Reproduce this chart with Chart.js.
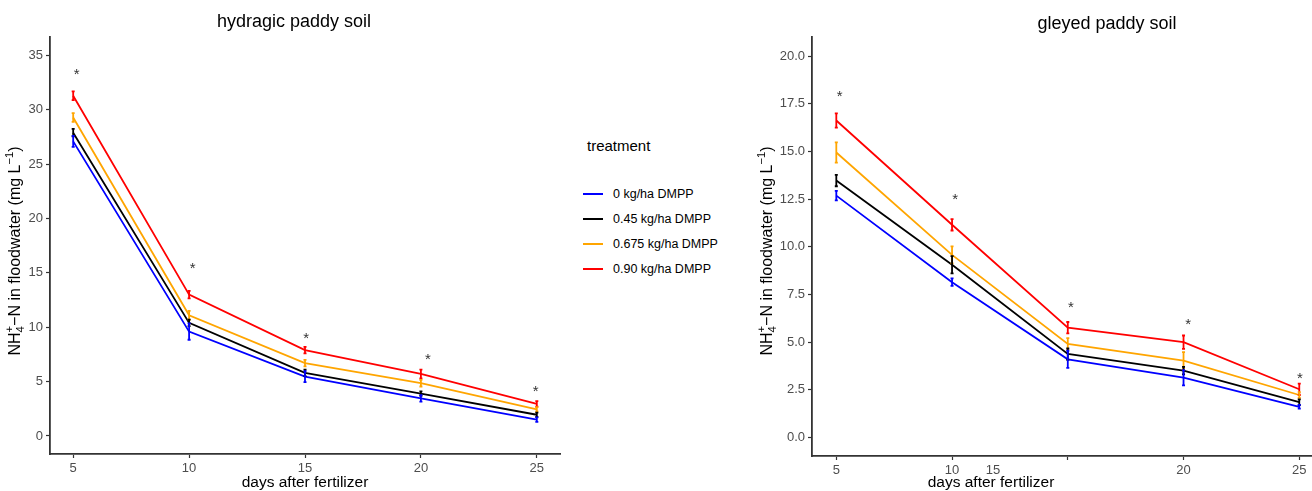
<!DOCTYPE html>
<html>
<head>
<meta charset="utf-8">
<script src="https://cdn.jsdelivr.net/npm/chart.js@4.4.1/dist/chart.umd.min.js"></script>
<style>
    html, body { margin: 0; padding: 0; background: #fff; }
    body { width: 1312px; height: 491px; position: relative; overflow: hidden; font-family: 'Liberation Sans', Arial, sans-serif; }
    .panel { position: absolute; top: 0; }
    #legend { position: absolute; left: 583px; top: 137px; color: #000; }
    #legend .legend-title { font-size: 15px; margin-bottom: 27px; margin-left: 4px; }
    #legend .legend-item { display: flex; align-items: center; height: 25px; font-size: 12.5px; }
    #legend .legend-line { width: 20px; height: 2px; margin-right: 10px; }
</style>
</head>
<body>
<canvas id="chartLeft" class="panel" style="left:0px" width="570" height="491"></canvas>
<canvas id="chartRight" class="panel" style="left:740px" width="572" height="491"></canvas>
<div id="legend"></div>

<script>
// Data
const days = [5, 10, 15, 20, 25];
const treatments = ['0 kg/ha DMPP', '0.45 kg/ha DMPP', '0.675 kg/ha DMPP', '0.90 kg/ha DMPP'];
const treatmentColors = ['#0000FF', '#000000', '#FFA500', '#FF0000'];

// hydragic paddy soil
const hydragic0 = [27.1, 9.6, 5.45, 3.45, 1.5];
const hydragic045 = [27.9, 10.4, 5.8, 3.9, 1.95];
const hydragic0675 = [29.3, 11.1, 6.7, 4.85, 2.45];
const hydragic090 = [31.3, 13.0, 7.9, 5.7, 2.95];
const hydragicErr0 = [0.5, 0.75, 0.5, 0.3, 0.2];
const hydragicErr045 = [0.35, 0.3, 0.3, 0.2, 0.2];
const hydragicErr0675 = [0.4, 0.4, 0.3, 0.3, 0.2];
const hydragicErr090 = [0.4, 0.35, 0.3, 0.4, 0.25];
const hydragicStarX = [5.15, 10.15, 15.05, 20.3, 24.95];
const hydragicStarY = [33.4, 15.6, 9.1, 7.2, 4.2];

// gleyed paddy soil
const gleyed0 = [12.68, 8.14, 4.09, 3.13, 1.6];
const gleyed045 = [13.47, 9.05, 4.37, 3.5, 1.84];
const gleyed0675 = [14.94, 9.57, 4.9, 4.02, 2.22];
const gleyed090 = [16.62, 11.15, 5.75, 4.99, 2.52];
const gleyedErr0 = [0.25, 0.2, 0.45, 0.4, 0.1];
const gleyedErr045 = [0.3, 0.45, 0.3, 0.2, 0.15];
const gleyedErr0675 = [0.53, 0.45, 0.3, 0.45, 0.15];
const gleyedErr090 = [0.37, 0.3, 0.3, 0.35, 0.3];
const gleyedStarX = [5.15, 10.13, 15.13, 20.2, 25.03];
const gleyedStarY = [17.97, 12.55, 6.9, 6.02, 3.18];

// tick labels
const hydragicYTicks = [0, 5, 10, 15, 20, 25, 30, 35];
const hydragicXTicks = [5, 10, 15, 20, 25];
const hydragicXLabels = ['5', '10', '15', '20', '25'];
const gleyedYTicks = [0, 2.5, 5, 7.5, 10, 12.5, 15, 17.5, 20];
// the "15" label sits off its tick in the original, the tick at 15 has no label
const gleyedXTicks = [5, 10, 11.77, 15, 20, 25];
const gleyedXLabels = ['5', '10', '15', '', '20', '25'];

const FONT = "'Liberation Sans', Arial, sans-serif";
const AXIS_COLOR = '#333333';
const TICK_TEXT = '#4d4d4d';

// y axis title with sub/superscripts
const yTitleParts = [
    { text: 'NH' },
    { sub: '4', sup: '+' },
    { text: '\u2212N in floodwater (mg L' },
    { sup: '\u22121' },
    { text: ')' }
];

function drawRichText(ctx, parts, cx, cy, size, rotate) {
    const small = size * 0.7;
    ctx.save();
    ctx.translate(cx, cy);
    if (rotate) ctx.rotate(-Math.PI / 2);
    ctx.fillStyle = '#000';
    ctx.textBaseline = 'middle';
    ctx.textAlign = 'left';

    const widths = parts.map(p => {
        if (p.text) { ctx.font = size + 'px ' + FONT; return ctx.measureText(p.text).width; }
        ctx.font = small + 'px ' + FONT;
        return Math.max(p.sub ? ctx.measureText(p.sub).width : 0, p.sup ? ctx.measureText(p.sup).width : 0);
    });
    const total = widths.reduce((a, b) => a + b, 0);
    let x = -total / 2;
    parts.forEach((p, i) => {
        if (p.text) {
            ctx.font = size + 'px ' + FONT;
            ctx.fillText(p.text, x, 0);
        } else {
            ctx.font = small + 'px ' + FONT;
            if (p.sub) ctx.fillText(p.sub, x, size * 0.32);
            if (p.sup) ctx.fillText(p.sup, x, -size * 0.38);
        }
        x += widths[i];
    });
    ctx.restore();
}

// error bars + significance stars, placed through the chart scales
const errorBarPlugin = {
    id: 'errorBars',
    afterDatasetsDraw(chart, args, opts) {
        const { ctx, scales: { x, y } } = chart;
        chart.data.datasets.forEach(ds => {
            if (!ds.errors) return;
            ctx.save();
            ctx.strokeStyle = ds.borderColor;
            ctx.lineWidth = 1.8;
            ds.data.forEach((pt, i) => {
                const px = x.getPixelForValue(pt.x);
                const top = y.getPixelForValue(pt.y + ds.errors[i]);
                const bot = y.getPixelForValue(pt.y - ds.errors[i]);
                ctx.beginPath();
                ctx.moveTo(px, top);
                ctx.lineTo(px, bot);
                ctx.moveTo(px - 1.5, top);
                ctx.lineTo(px + 1.5, top);
                ctx.moveTo(px - 1.5, bot);
                ctx.lineTo(px + 1.5, bot);
                ctx.stroke();
            });
            ctx.restore();
        });

        if (opts.starX) {
            ctx.save();
            ctx.fillStyle = '#333';
            ctx.font = '15px ' + FONT;
            ctx.textAlign = 'center';
            ctx.textBaseline = 'middle';
            opts.starX.forEach((sx, i) => {
                ctx.fillText('*', x.getPixelForValue(sx), y.getPixelForValue(opts.starY[i]) + 2);
            });
            ctx.restore();
        }
    },
    afterDraw(chart, args, opts) {
        const { ctx } = chart;
        ctx.save();
        ctx.fillStyle = '#000';
        ctx.textAlign = 'center';
        ctx.textBaseline = 'middle';
        ctx.font = '18px ' + FONT;
        ctx.fillText(opts.title, opts.titleX, opts.titleY);
        ctx.font = '15.5px ' + FONT;
        ctx.fillText('days after fertilizer', opts.xTitleX, 483);
        ctx.restore();
        drawRichText(ctx, yTitleParts, opts.yTitleX, 251, 16, true);
    }
};

function buildDatasets(seriesList, errList) {
    return seriesList.map((vals, i) => ({
        label: treatments[i],
        data: days.map((d, j) => ({ x: d, y: vals[j] })),
        errors: errList[i],
        borderColor: treatmentColors[i],
        backgroundColor: treatmentColors[i],
        borderWidth: 1.8,
        pointRadius: 0,
        tension: 0,
        fill: false
    })).reverse();
}

function makePanel(canvasId, cfg) {
    const ctx = document.getElementById(canvasId).getContext('2d');
    return new Chart(ctx, {
        type: 'line',
        data: { datasets: buildDatasets(cfg.series, cfg.errors) },
        plugins: [errorBarPlugin],
        options: {
            responsive: false,
            devicePixelRatio: 1,
            animation: false,
            layout: { padding: { top: 37, right: cfg.padRight, left: 0, bottom: 0 } },
            plugins: {
                legend: { display: false },
                tooltip: { enabled: false },
                errorBars: {
                    starX: cfg.starX, starY: cfg.starY,
                    title: cfg.title, titleX: cfg.titleX, titleY: cfg.titleY,
                    xTitleX: cfg.xTitleX, yTitleX: cfg.yTitleX
                }
            },
            scales: {
                x: {
                    type: 'linear',
                    min: cfg.xMin, max: cfg.xMax,
                    afterFit: s => { s.height = cfg.xAxisHeight; },
                    afterBuildTicks: s => { s.ticks = cfg.xTicks.map(v => ({ value: v })); },
                    grid: {
                        drawOnChartArea: false,
                        drawTicks: true,
                        tickLength: 4,
                        tickWidth: 1.2,
                        tickColor: c => (c.tick && cfg.xLabels[cfg.xTicks.indexOf(c.tick.value)] === '15' && c.tick.value !== 15) ? 'rgba(0,0,0,0)' : AXIS_COLOR
                    },
                    border: { color: AXIS_COLOR, width: 1.8 },
                    ticks: {
                        color: TICK_TEXT,
                        font: { family: FONT, size: 13 },
                        padding: 3,
                        maxRotation: 0,
                        autoSkip: false,
                        callback: v => cfg.xLabels[cfg.xTicks.indexOf(v)]
                    }
                },
                y: {
                    min: cfg.yMin, max: cfg.yMax,
                    afterFit: s => { s.width = cfg.yAxisWidth; },
                    afterBuildTicks: s => { s.ticks = cfg.yTicks.map(v => ({ value: v })); },
                    grid: {
                        drawOnChartArea: false,
                        drawTicks: true,
                        tickLength: 4,
                        tickWidth: 1.2,
                        tickColor: AXIS_COLOR
                    },
                    border: { color: AXIS_COLOR, width: 1.8 },
                    ticks: {
                        color: TICK_TEXT,
                        font: { family: FONT, size: 13 },
                        padding: 3,
                        autoSkip: false,
                        callback: v => cfg.yFormat(v)
                    }
                }
            }
        }
    });
}

makePanel('chartLeft', {
    series: [hydragic0, hydragic045, hydragic0675, hydragic090],
    errors: [hydragicErr0, hydragicErr045, hydragicErr0675, hydragicErr090],
    starX: hydragicStarX, starY: hydragicStarY,
    title: 'hydragic paddy soil', titleX: 294, titleY: 22,
    xTitleX: 305, yTitleX: 16,
    xMin: 4, xMax: 26, yMin: -1.66, yMax: 36.7,
    xTicks: hydragicXTicks, xLabels: hydragicXLabels,
    yTicks: hydragicYTicks, yFormat: v => String(v),
    yAxisWidth: 50, xAxisHeight: 37, padRight: 10
});

makePanel('chartRight', {
    series: [gleyed0, gleyed045, gleyed0675, gleyed090],
    errors: [gleyedErr0, gleyedErr045, gleyedErr0675, gleyedErr090],
    starX: gleyedStarX, starY: gleyedStarY,
    title: 'gleyed paddy soil', titleX: 367, titleY: 24,
    xTitleX: 251, yTitleX: 28,
    xMin: 3.95, xMax: 25.55, yMin: -0.98, yMax: 21.0,
    xTicks: gleyedXTicks, xLabels: gleyedXLabels,
    yTicks: gleyedYTicks, yFormat: v => v.toFixed(1),
    yAxisWidth: 72, xAxisHeight: 35, padRight: 0
});

// Legend
const legend = document.getElementById('legend');
legend.innerHTML = '<div class="legend-title">treatment</div>';
treatments.forEach((name, i) => {
    const item = document.createElement('div');
    item.className = 'legend-item';
    item.innerHTML = `<span class="legend-line" style="background:${treatmentColors[i]}"></span><span>${name}</span>`;
    legend.appendChild(item);
});
</script>
</body>
</html>
